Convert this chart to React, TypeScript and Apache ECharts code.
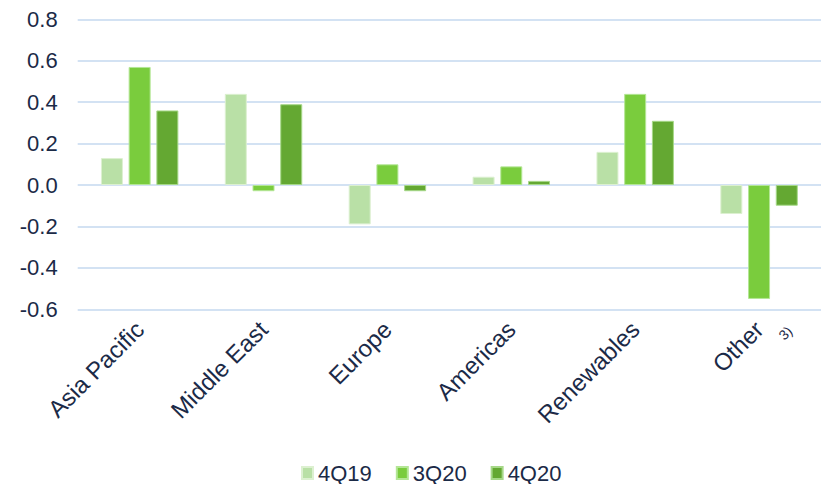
import React, { useEffect, useRef } from "react";
import * as echarts from "echarts";

const categories = ["Asia Pacific", "Middle East", "Europe", "Americas", "Renewables", "Other"];
const seriesNames = ["4Q19", "3Q20", "4Q20"];
const values4Q19 = [0.13, 0.44, -0.19, 0.04, 0.16, -0.14];
const values3Q20 = [0.57, -0.03, 0.10, 0.09, 0.44, -0.55];
const values4Q20 = [0.36, 0.39, -0.03, 0.02, 0.31, -0.10];
const footnoteCategory = "Other";
const footnoteMark = "3)";

const fills = ["#b9e0a6", "#7acc3d", "#64a832"];
const edges = ["#dcf0d0", "#b4e696", "#a6d888"];
const TEXT = "#1b2a47";
const FONT = "'Liberation Sans', Arial, sans-serif";

export default function App() {
  const ref = useRef<HTMLDivElement>(null);

  useEffect(() => {
    if (!ref.current) return;
    const chart = echarts.init(ref.current, undefined, { renderer: "svg" });
    const data = [values4Q19, values3Q20, values4Q20];
    chart.setOption({
      animation: false,
      textStyle: { fontFamily: FONT },
      grid: { left: 77.7, right: -9.7, top: 19.3, bottom: 174.7, containLabel: false },
      legend: {
        data: seriesNames,
        left: 301,
        top: 462,
        padding: 0,
        itemWidth: 11,
        itemHeight: 12,
        itemGap: 24,
        icon: "rect",
        textStyle: { fontSize: 22, lineHeight: 20, color: TEXT, fontFamily: FONT },
      },
      xAxis: [
        {
          type: "category",
          data: categories,
          position: "bottom",
          axisLine: { show: false },
          axisTick: { show: false },
          axisLabel: {
            rotate: 45,
            margin: 16,
            interval: 0,
            fontSize: 24,
            color: TEXT,
            fontFamily: FONT,
          },
        },
        {
          // second, label-only axis carrying the footnote marker after "Other"
          type: "category",
          data: categories,
          position: "bottom",
          axisLine: { show: false },
          axisTick: { show: false },
          splitLine: { show: false },
          axisLabel: {
            rotate: 45,
            margin: 60,
            interval: 0,
            align: "left",
            verticalAlign: "bottom",
            formatter: (v: string) => (v === footnoteCategory ? `{s|${footnoteMark}}` : ""),
            rich: {
              s: { fontSize: 14, color: TEXT, fontFamily: FONT, padding: [0, 0, 0, 38] },
            },
          },
        },
      ],
      yAxis: {
        type: "value",
        min: -0.6,
        max: 0.8,
        interval: 0.2,
        axisLine: { show: false },
        axisTick: { show: false },
        splitLine: { lineStyle: { color: "#c5d8ef", width: 1.5 } },
        axisLabel: {
          margin: 20,
          fontSize: 22,
          color: TEXT,
          fontFamily: FONT,
          formatter: (v: number) => v.toFixed(1),
        },
      },
      series: seriesNames.map((name, i) => ({
        name,
        type: "bar",
        data: data[i],
        barWidth: 22,
        barGap: "26%",
        itemStyle: { color: fills[i], borderColor: edges[i], borderWidth: 1 },
      })),
    });
    return () => chart.dispose();
  }, []);

  return (
    <div
      ref={ref}
      style={{ position: "absolute", left: 0, top: 0, width: 821, height: 484 }}
    />
  );
}
